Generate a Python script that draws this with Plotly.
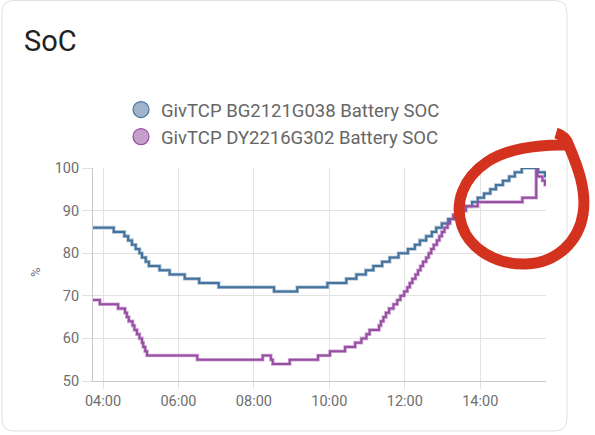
import plotly.graph_objects as go

DAY = "2023-06-01 "

# Series 1: GivTCP BG2121G038 Battery SOC (step changes)
blue_times = ["03:44:00", "04:17:00", "04:34:00", "04:40:00", "04:46:00", "04:52:00", "04:58:00",
              "05:02:00", "05:08:00", "05:13:00", "05:30:00", "05:46:00", "06:10:00", "06:33:00",
              "07:04:00", "08:32:00", "09:09:00", "09:57:00", "10:27:00", "10:43:00", "10:58:00",
              "11:10:00", "11:24:00", "11:36:00", "11:50:00", "12:05:00", "12:16:00", "12:24:00",
              "12:34:00", "12:43:00", "12:50:00", "12:59:00", "13:09:00", "13:20:00", "13:29:00",
              "13:37:00", "13:47:00", "13:56:00", "14:06:00", "14:16:00", "14:25:00", "14:36:00",
              "14:46:00", "14:55:00", "15:06:00", "15:32:00", "15:43:00", "15:44:00"]
blue_soc = [86, 85, 84, 83, 82, 81, 80,
            79, 78, 77, 76, 75, 74, 73,
            72, 71, 72, 73, 74, 75, 76,
            77, 78, 79, 80, 81, 82, 83,
            84, 85, 86, 87, 88, 89, 90,
            91, 92, 93, 94, 95, 96, 97,
            98, 99, 100, 99, 98, 98]

# Series 2: GivTCP DY2216G302 Battery SOC (step changes)
purple_times = ["03:44:00", "03:55:00", "04:24:00", "04:35:00", "04:38:00", "04:41:00", "04:47:00",
                "04:50:00", "04:54:00", "04:58:00", "05:02:00", "05:04:00", "05:07:00", "05:10:00",
                "06:30:00", "08:14:00", "08:27:00", "08:30:00", "08:57:00", "09:42:00", "10:01:00",
                "10:25:00", "10:41:00", "10:51:00", "10:59:00", "11:04:00", "11:19:00", "11:22:00",
                "11:26:00", "11:30:00", "11:35:00", "11:42:00", "11:48:00", "11:53:00", "11:59:00",
                "12:04:00", "12:08:00", "12:12:00", "12:17:00", "12:21:00", "12:25:00", "12:29:00",
                "12:34:00", "12:38:00", "12:42:00", "12:46:00", "12:51:00", "12:55:00", "12:59:00",
                "13:03:00", "13:08:00", "13:12:00", "13:17:00", "13:26:00", "13:37:00", "13:56:00",
                "15:07:00", "15:29:00", "15:31:00", "15:39:00", "15:43:00", "15:44:00"]
purple_soc = [69, 68, 67, 66, 65, 64, 63,
              62, 61, 60, 59, 58, 57, 56,
              55, 56, 55, 54, 55, 56, 57,
              58, 59, 60, 61, 62, 63, 64,
              65, 66, 67, 68, 69, 70, 71,
              72, 73, 74, 75, 76, 77, 78,
              79, 80, 81, 82, 83, 84, 85,
              86, 87, 88, 89, 90, 91, 92,
              93, 100, 98, 97, 96, 96]

series_names = ["GivTCP BG2121G038 Battery SOC", "GivTCP DY2216G302 Battery SOC"]
x_range = ["03:44:06", "15:44:35"]
y_range = [50, 100]
y_ticks = [50, 60, 70, 80, 90, 100]

BLUE = "#44739e"
PURPLE = "#984ea3"
BLUE_L = "#a9bdd1"
PURPLE_L = "#cfaed5"

W, H = 595, 435
L, R, T, B = 93, 546, 168, 381


def px(xp, yp):
    return (xp - L) / (R - L), (B - yp) / (B - T)


def path(cmds):
    out = []
    for c in cmds:
        op, pts = c[0], c[1:]
        s = op
        for (a, b) in pts:
            u, v = px(a, b)
            s += f" {u:.5f},{v:.5f}"
        out.append(s)
    return " ".join(out)


fig = go.Figure()

bt = [DAY + t for t in blue_times]
pt = [DAY + t for t in purple_times]

for xs, ys, c in [(bt, blue_soc, BLUE_L), (pt, purple_soc, PURPLE_L)]:
    fig.add_trace(go.Scatter(x=xs, y=ys, mode="lines", line=dict(color=c, width=3.6, shape="hv"),
                             showlegend=False, hoverinfo="skip"))
for xs, ys, c, n in [(bt, blue_soc, BLUE, series_names[0]), (pt, purple_soc, PURPLE, series_names[1])]:
    fig.add_trace(go.Scatter(x=xs, y=ys, mode="lines", line=dict(color=c, width=2, shape="hv"),
                             name=n, showlegend=False))

# legend entries (circle symbols)
for n, fc, lc in [(series_names[0], "#a1b3cb", BLUE), (series_names[1], "#c6a0cc", PURPLE)]:
    fig.add_trace(go.Scatter(x=[None], y=[None], mode="markers", name=n,
                             marker=dict(symbol="circle", size=18, color=fc, line=dict(color=lc, width=1.2))))

shapes = []
# card outline
rad = 12
x0, y0, x1, y1 = 2, 0.5, 567, 431
shapes.append(dict(type="path", xref="paper", yref="paper", layer="below",
                   path=path([("M", (x0 + rad, y0)), ("L", (x1 - rad, y0)), ("Q", (x1, y0), (x1, y0 + rad)),
                              ("L", (x1, y1 - rad)), ("Q", (x1, y1), (x1 - rad, y1)), ("L", (x0 + rad, y1)),
                              ("Q", (x0, y1), (x0, y1 - rad)), ("L", (x0, y0 + rad)), ("Q", (x0, y0), (x0 + rad, y0))]),
                   line=dict(color="#e0e0e0", width=1), fillcolor="rgba(0,0,0,0)"))
# hand-drawn red highlight
shapes.append(dict(type="path", xref="paper", yref="paper", layer="above",
                   path=path([("M", (556, 133)), ("Q", (566, 136), (569, 146)),
                              ("C", (577, 165), (587, 190), (583, 214)),
                              ("C", (579, 240), (558, 263), (526, 264)),
                              ("C", (496, 265), (470, 249), (462, 226)),
                              ("C", (454, 203), (463, 178), (487, 162)),
                              ("C", (505, 150), (535, 144), (567, 145))]),
                   line=dict(color="#d3321f", width=11), fillcolor="rgba(0,0,0,0)"))

tx, ty = px(22, 22)
yx, yy = px(35, 272)
lx, ly = px(121, 91)

fig.update_layout(
    width=W, height=H,
    margin=dict(l=L, r=W - R, t=T, b=H - B),
    paper_bgcolor="white", plot_bgcolor="white",
    font=dict(family="Roboto", color="#6e6e6e", size=14.5),
    shapes=shapes,
    showlegend=True,
    legend=dict(x=lx, y=ly, xanchor="left", yanchor="top", font=dict(size=18.5, color="#666666"),
                bgcolor="rgba(0,0,0,0)", itemsizing="trace", tracegroupgap=0),
    annotations=[
        dict(text="SoC", x=tx, y=ty, xref="paper", yref="paper", xanchor="left", yanchor="top",
             showarrow=False, font=dict(size=29, color="#212121", family="Roboto")),
        dict(text="%", x=yx, y=yy, xref="paper", yref="paper", xanchor="center", yanchor="middle",
             textangle=-90, showarrow=False, font=dict(size=13, color="#6e6e6e")),
    ],
    xaxis=dict(type="date", range=[DAY + x_range[0], DAY + x_range[1]], tickformat="%H:%M", dtick=7200000,
               tick0=DAY + "00:00", showgrid=True, gridcolor="#e2e2e2", gridwidth=1,
               showline=True, linecolor="#c8c8c8", linewidth=1, ticks="outside", ticklen=7,
               tickcolor="#e2e2e2", zeroline=False),
    yaxis=dict(range=y_range, tickvals=y_ticks, showgrid=True, gridcolor="#e2e2e2", gridwidth=1,
               showline=True, linecolor="#c8c8c8", linewidth=1, ticks="outside", ticklen=10,
               tickcolor="#e2e2e2", zeroline=False),
)

fig.write_html("out.html", config={"displayModeBar": False},
               post_script="document.body.style.margin='0px';")
